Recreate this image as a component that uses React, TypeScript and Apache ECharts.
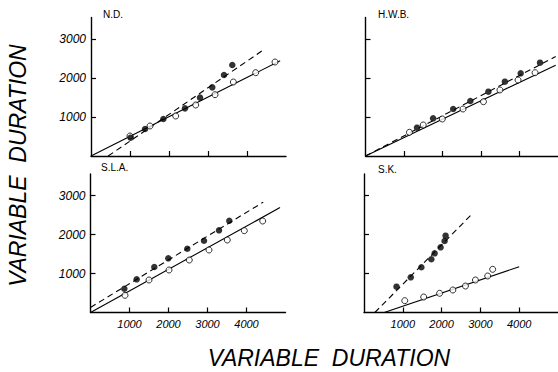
import React, { useEffect, useRef } from "react";
import * as echarts from "echarts";

// ---- data (x = variable duration, y = variable duration) ----
const panelTitles = ["N.D.", "H.W.B.", "S.L.A.", "S.K."];
const xTickValues = [1000, 2000, 3000, 4000];
const yTickValues = [1000, 2000, 3000];

// N.D.
const ndOpen = [[1000, 513], [1513, 769], [2172, 1026], [2685, 1308], [3180, 1572], [3650, 1897], [4223, 2136], [4718, 2410]];
const ndFilled = [[1017, 470], [1385, 692], [1855, 949], [2410, 1222], [2795, 1496], [3110, 1760], [3410, 2077], [3623, 2333]];
const ndSolid = [[0, 0], [4850, 2440]];
const ndDashed = [[440, 0], [4420, 2720]];

// H.W.B.
const hwbOpen = [[1141, 608], [1500, 795], [1995, 949], [2533, 1205], [3064, 1393], [3492, 1692], [3962, 1949], [4405, 2136]];
const hwbFilled = [[1338, 726], [1756, 966], [2277, 1205], [2723, 1410], [3192, 1649], [3620, 1906], [4031, 2120], [4533, 2393]];
const hwbSolid = [[0, 0], [4940, 2330]];
const hwbDashed = [[0, 0], [4940, 2550]];

// S.L.A.
const slaOpen = [[885, 441], [1500, 833], [2013, 1090], [2533, 1346], [3038, 1603], [3508, 1859], [3944, 2098], [4415, 2346]];
const slaFilled = [[867, 610], [1184, 851], [1636, 1167], [1995, 1389], [2482, 1636], [2910, 1841], [3295, 2107], [3559, 2354]];
const slaSolid = [[0, 0], [4860, 2690]];
const slaDashed = [[0, 130], [4430, 2830]];

// S.K.
const skOpen = [[1051, 303], [1538, 397], [1949, 492], [2290, 577], [2615, 679], [2872, 833], [3188, 936], [3316, 1107]];
const skFilled = [[838, 662], [1205, 902], [1479, 1159], [1735, 1364], [1821, 1517], [1974, 1671], [2077, 1833], [2103, 1970]];
const skSolid = [[520, 0], [4000, 1175]];
const skDashed = [[280, 0], [2760, 2500]];

const panels = [
  { open: ndOpen, filled: ndFilled, solid: ndSolid, dashed: ndDashed },
  { open: hwbOpen, filled: hwbFilled, solid: hwbSolid, dashed: hwbDashed },
  { open: slaOpen, filled: slaFilled, solid: slaSolid, dashed: slaDashed },
  { open: skOpen, filled: skFilled, solid: skSolid, dashed: skDashed },
];

const X_MAX = 5000;
const Y_MAX = 3550;
const GRID_W = 195;
const GRID_H = 138.45;
const gridPos = [
  { left: 91, top: 17.55 },
  { left: 365.5, top: 17.55 },
  { left: 90.5, top: 174.05 },
  { left: 364, top: 174.05 },
];
const titlePos = [
  { x: 103, y: 14 },
  { x: 378, y: 14 },
  { x: 101, y: 167 },
  { x: 378, y: 169 },
];

const FONT = "'Liberation Sans', Arial, sans-serif";

export default function App() {
  const ref = useRef<HTMLDivElement>(null);
  useEffect(() => {
    if (!ref.current) return;
    const chart = echarts.init(ref.current, undefined, { renderer: "svg" });
    const axisLine = { show: true, lineStyle: { color: "#000", width: 1.4 } };
    const grid = gridPos.map((g) => ({ left: g.left, top: g.top, width: GRID_W, height: GRID_H, containLabel: false }));
    const fmt = (v: number) => String(v);
    const xAxis = gridPos.map((_, i) => ({
      type: "value",
      gridIndex: i,
      min: 0,
      max: X_MAX,
      interval: 1000,
      axisLine,
      splitLine: { show: false },
      axisTick: { show: true, inside: true, length: 5, lineStyle: { color: "#000", width: 1.2 }, customValues: xTickValues },
      axisLabel: {
        show: i >= 2,
        customValues: xTickValues,
        formatter: fmt,
        color: "#000",
        fontSize: 11,
        fontStyle: "italic",
        fontFamily: FONT,
        margin: 6,
      },
    }));
    const yAxis = gridPos.map((_, i) => ({
      type: "value",
      gridIndex: i,
      min: 0,
      max: Y_MAX,
      interval: 1000,
      axisLine,
      splitLine: { show: false },
      axisTick: { show: true, inside: true, length: 5, lineStyle: { color: "#000", width: 1.2 }, customValues: yTickValues },
      axisLabel: {
        show: i % 2 === 0,
        customValues: yTickValues,
        formatter: fmt,
        color: "#000",
        fontSize: 12,
        fontStyle: "italic",
        fontFamily: FONT,
        margin: 5,
      },
    }));
    const series: any[] = [];
    panels.forEach((p, i) => {
      series.push({
        type: "line",
        xAxisIndex: i,
        yAxisIndex: i,
        data: p.solid,
        showSymbol: false,
        symbol: "none",
        lineStyle: { color: "#000", width: 1.1 },
        z: 1,
      });
      series.push({
        type: "line",
        xAxisIndex: i,
        yAxisIndex: i,
        data: p.dashed,
        showSymbol: false,
        symbol: "none",
        lineStyle: { color: "#000", width: 1.1, type: [6, 4] },
        z: 1,
      });
      series.push({
        type: "scatter",
        xAxisIndex: i,
        yAxisIndex: i,
        data: p.open,
        symbol: "circle",
        symbolSize: 6,
        itemStyle: { color: "#fff", borderColor: "#000", borderWidth: 1 },
        z: 3,
      });
      series.push({
        type: "scatter",
        xAxisIndex: i,
        yAxisIndex: i,
        data: p.filled,
        symbol: "circle",
        symbolSize: 6.5,
        itemStyle: { color: "#000" },
        z: 3,
      });
    });
    const graphic: any[] = panelTitles.map((t, i) => ({
      type: "text",
      x: titlePos[i].x,
      y: titlePos[i].y,
      style: {
        text: t,
        font: `10px ${FONT}`,
        fill: "#000",
        align: "left",
        textAlign: "left",
        verticalAlign: "middle",
        textVerticalAlign: "middle",
      },
    }));
    graphic.push({
      type: "text",
      x: 329,
      y: 357.5,
      scaleY: 1.05,
      style: {
        text: "VARIABLE  DURATION",
        font: `italic 23px ${FONT}`,
        fill: "#000",
        align: "center",
        textAlign: "center",
        verticalAlign: "middle",
        textVerticalAlign: "middle",
      },
    });
    graphic.push({
      type: "text",
      x: 18,
      y: 165.5,
      rotation: Math.PI / 2,
      scaleY: 1.05,
      style: {
        text: "VARIABLE  DURATION",
        font: `italic 23px ${FONT}`,
        fill: "#000",
        align: "center",
        textAlign: "center",
        verticalAlign: "middle",
        textVerticalAlign: "middle",
      },
    });
    chart.setOption({
      animation: false,
      backgroundColor: "#fff",
      grid,
      xAxis,
      yAxis,
      series,
      graphic,
    });
    return () => chart.dispose();
  }, []);
  return (
    <div
      ref={ref}
      style={{ position: "fixed", left: 0, top: 0, width: 558, height: 372, background: "#fff" }}
    />
  );
}
